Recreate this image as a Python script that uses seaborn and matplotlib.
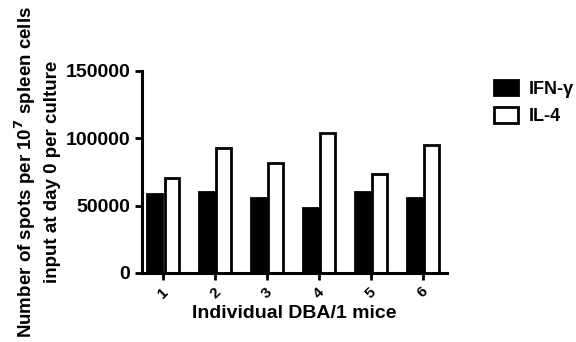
import pandas as pd
import seaborn as sns
import matplotlib.pyplot as plt

mice = ["1", "2", "3", "4", "5", "6"]
ifn_gamma = [58800, 59800, 55600, 47900, 60500, 55600]
il4 = [70500, 92700, 82000, 103900, 73400, 95200]

df = pd.DataFrame({
    "mouse": mice * 2,
    "spots": ifn_gamma + il4,
    "cytokine": ["IFN-γ"] * len(mice) + ["IL-4"] * len(mice),
})

sns.set_style("ticks")
plt.rcParams["font.family"] = ["Liberation Sans", "DejaVu Sans"]
plt.rcParams["font.weight"] = "bold"
for k in ["text.color", "axes.labelcolor", "xtick.color", "ytick.color", "axes.edgecolor"]:
    plt.rcParams[k] = "black"

fig = plt.figure(figsize=(5.76, 3.42), dpi=100)
ax = fig.add_axes([0.2465, 0.2018, 0.53, 0.5906])

sns.barplot(data=df, x="mouse", y="spots", hue="cytokine",
            palette=["black", "white"], edgecolor="black", linewidth=2,
            width=0.66, gap=0.15, ax=ax)

ax.set_ylim(0, 150000)
ax.set_xlim(-0.41, 5.47)
ax.set_yticks([0, 50000, 100000, 150000])
ax.set_yticklabels(["0", "50000", "100000", "150000"], fontsize=14, fontweight="bold")
ax.set_xticks(range(len(mice)))
ax.set_xticklabels(mice, rotation=45, fontsize=11, fontweight="bold")
ax.tick_params(width=2, length=5)
for s in ["left", "bottom"]:
    ax.spines[s].set_linewidth(2.2)
sns.despine(ax=ax)

ax.set_xlabel("Individual DBA/1 mice", fontsize=14, fontweight="bold", labelpad=3)
ax.set_ylabel("Number of spots per 10$^{\\mathbf{7}}$ spleen cells\ninput at day 0 per culture",
              fontsize=13.5, fontweight="bold", linespacing=1.5)
ax.yaxis.set_label_coords(-0.265, 0.5)

handles, labels = ax.get_legend_handles_labels()
ax.legend(handles, labels, loc="upper left", bbox_to_anchor=(0.83, 0.815),
          bbox_transform=fig.transFigure, frameon=False,
          prop={"size": 13, "weight": "bold"},
          handlelength=1.3, handleheight=0.95, handletextpad=0.6, labelspacing=0.55)

fig.savefig("out.png", dpi=100)
